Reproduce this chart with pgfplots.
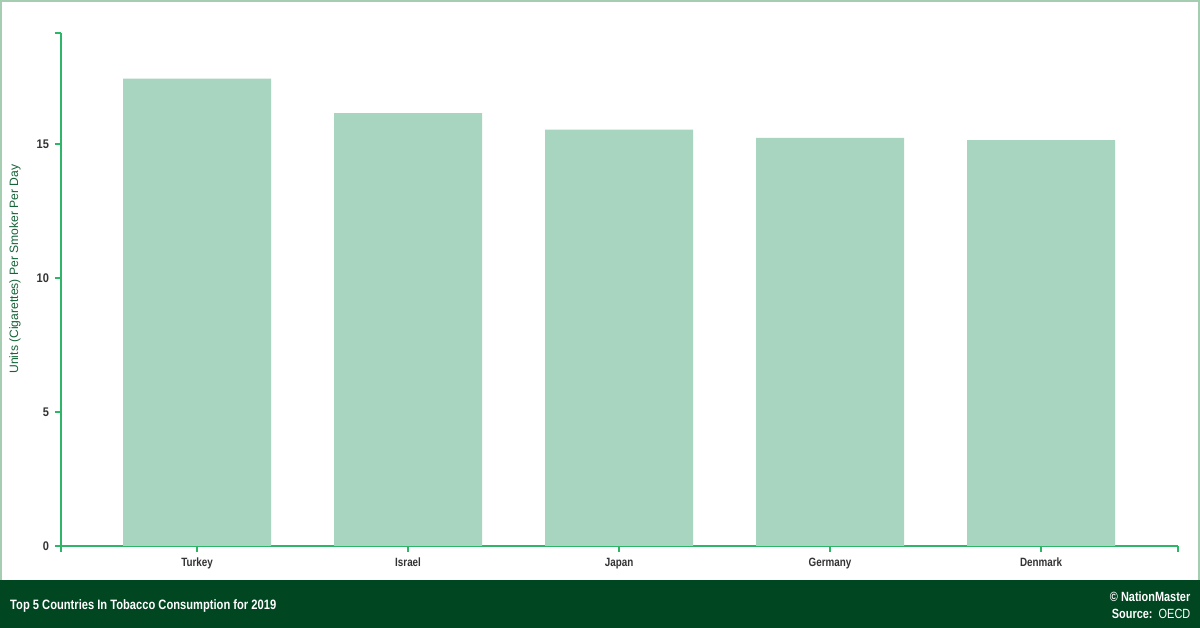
\documentclass[border=0pt]{standalone}
\usepackage{pgfplots}
\pgfplotsset{compat=1.18}
\usepackage{fontspec}
\setmainfont{Liberation Sans}
\newfontfamily\narrow{Liberation Sans}[FakeStretch=0.82]
\newfontfamily\semi{Liberation Sans}[FakeStretch=0.88]
\definecolor{barfill}{RGB}{168,213,192}
\definecolor{axisgreen}{RGB}{46,182,104}
\definecolor{band}{RGB}{0,70,32}
\definecolor{frame}{RGB}{165,205,178}
\definecolor{labelgreen}{RGB}{20,100,55}
\definecolor{ticktext}{RGB}{51,51,51}

\begin{document}
\begin{tikzpicture}[x=0.75pt,y=0.75pt]
  % canvas 1200 x 628 px, origin bottom left
  \useasboundingbox (0,0) rectangle (1200,628);
  \fill[white] (0,0) rectangle (1200,628);
  \fill[band] (0,0) rectangle (1200,48);
  \draw[frame,line width=1.5] (0.75,48) -- (0.75,627.25) -- (1199.25,627.25) -- (1199.25,48);

  \begin{axis}[
      at={(45.75pt,61.5pt)}, anchor=south west,
      scale only axis,
      width=837.75pt, height=384.75pt,
      ybar, bar width=111pt,
      xmin=-0.645, xmax=4.649,
      ymin=0, ymax=19.14,
      axis lines*=left,
      axis line style={axisgreen, line width=1pt, -},
      xtick={0,1,2,3,4},
      xticklabels={Turkey,Israel,Japan,Germany,Denmark},
      ytick={0,5,10,15},
      extra x ticks={-0.645,4.649},
      extra x tick labels={},
      extra y ticks={19.14},
      extra y tick labels={},
      extra tick style={major tick length=4.5pt},
      tick align=outside,
      major tick length=4.5pt,
      tick style={axisgreen, line width=1pt},
      tick label style={text=ticktext},
      xticklabel style={font=\narrow\bfseries\fontsize{9}{10}\selectfont, yshift=-1pt},
      yticklabel style={font=\semi\bfseries\fontsize{9.4}{10}\selectfont, xshift=-1pt},
      /pgf/number format/assume math mode=true,
    ]
    \addplot[fill=barfill, draw=none] coordinates {
      (0,17.44) (1,16.15) (2,15.53) (3,15.23) (4,15.14)
    };
  \end{axis}

  % axis title
  \node[rotate=90, text=labelgreen, font=\fontsize{9.1}{10}\selectfont]
    at (15,359) {Units (Cigarettes) Per Smoker Per Day};

  % footer band texts
  \node[anchor=west, text=white, font=\narrow\bfseries\fontsize{10.2}{12}\selectfont]
    at (5.5,22) {Top 5 Countries In Tobacco Consumption for 2019};
  \node[anchor=east, text=white, font=\narrow\bfseries\fontsize{10}{12}\selectfont]
    at (1195,31) {\textcopyright\ NationMaster};
  \node[anchor=east, text=white, font=\narrow\fontsize{10}{12}\selectfont]
    at (1195,14) {\textbf{Source:}\ \ OECD};
\end{tikzpicture}
\end{document}
